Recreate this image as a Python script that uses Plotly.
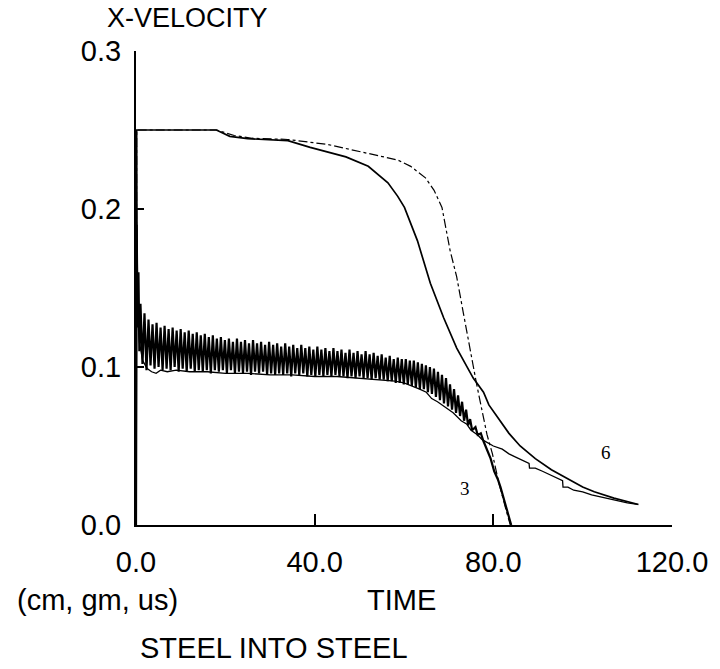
import plotly.graph_objects as go

# ---------------- data ----------------
# upper solid curve (label 6)
t_upper_solid = [0, 0.15, 18, 21, 25, 34, 39, 43, 47, 52, 56.4, 58.6, 60.1, 63, 64.8, 65.9,
                 68.9, 71.8, 75.5, 77.8, 79, 82, 83.5, 86, 89.4, 93, 96.7, 100, 102.6, 107, 112.5]
v_upper_solid = [0, 0.250, 0.250, 0.246, 0.2445, 0.2433, 0.239, 0.236, 0.233, 0.227, 0.2166, 0.208,
                 0.201, 0.180, 0.163, 0.153, 0.131, 0.112, 0.093, 0.084, 0.076, 0.064, 0.058, 0.050,
                 0.042, 0.035, 0.029, 0.024, 0.021, 0.017, 0.013]

# upper dash-dot curve
t_upper_dash = [0, 0.15, 18, 22, 26, 34, 43, 54, 58.6, 61.5, 63, 64.8, 66.7, 68.5, 70.3, 71.8,
                73.3, 74.7, 76.2, 77.5, 78.6, 79.8, 81.2, 83.0, 83.8]
v_upper_dash = [0, 0.250, 0.250, 0.2465, 0.2448, 0.2440, 0.2408, 0.2338, 0.2310, 0.2270, 0.2236,
                0.2197, 0.2120, 0.2010, 0.1740, 0.1570, 0.1340, 0.1120, 0.0900, 0.0720, 0.0570,
                0.0450, 0.0270, 0.0080, 0.0]

# lower oscillating curve (label 3): start transient, peaks, troughs, end
t_osc_start = [0, 0.15, 0.35, 0.55, 0.75]
v_osc_start = [0, 0.190, 0.125, 0.160, 0.110]
osc_first_peak_time = 1.0
osc_period = 0.9
osc_peaks = [0.140, 0.134, 0.130, 0.127, 0.128, 0.125, 0.126, 0.124, 0.125, 0.123,
             0.124, 0.122, 0.123, 0.121, 0.122, 0.120, 0.121, 0.119, 0.120, 0.118,
             0.119, 0.117, 0.118, 0.116, 0.118, 0.116, 0.117, 0.115, 0.117, 0.115,
             0.116, 0.114, 0.116, 0.114, 0.115, 0.113, 0.115, 0.113, 0.114, 0.112,
             0.114, 0.112, 0.113, 0.111, 0.113, 0.111, 0.112, 0.110, 0.112, 0.110,
             0.111, 0.109, 0.111, 0.109, 0.110, 0.108, 0.110, 0.108, 0.109, 0.107,
             0.108, 0.106, 0.107, 0.105, 0.106, 0.105, 0.105, 0.104, 0.104, 0.103,
             0.102, 0.101, 0.100, 0.099, 0.097, 0.095, 0.093, 0.089, 0.086, 0.082,
             0.078, 0.073, 0.067]
osc_troughs = [0.102, 0.098, 0.101, 0.099, 0.100, 0.098, 0.099, 0.098, 0.100, 0.097,
               0.099, 0.097, 0.099, 0.097, 0.098, 0.097, 0.098, 0.096, 0.098, 0.097,
               0.098, 0.096, 0.098, 0.096, 0.097, 0.096, 0.097, 0.095, 0.097, 0.096,
               0.097, 0.095, 0.096, 0.095, 0.096, 0.095, 0.096, 0.094, 0.096, 0.095,
               0.096, 0.094, 0.095, 0.094, 0.095, 0.094, 0.095, 0.094, 0.095, 0.094,
               0.094, 0.093, 0.094, 0.093, 0.094, 0.093, 0.093, 0.092, 0.093, 0.092,
               0.092, 0.091, 0.091, 0.090, 0.090, 0.089, 0.089, 0.088, 0.087, 0.086,
               0.086, 0.084, 0.083, 0.081, 0.079, 0.077, 0.075, 0.073, 0.071, 0.069,
               0.066, 0.063, 0.060]
t_osc_end = [76.0, 76.5, 77.2, 77.8, 78.6, 79.4, 80.2, 81.0, 81.6, 82.3, 82.9, 83.6, 84.0]
v_osc_end = [0.062, 0.057, 0.058, 0.053, 0.048, 0.042, 0.034, 0.029, 0.024, 0.017, 0.011, 0.004, 0.0]

# lower thin curve
t_lower_thin = [0, 0.1, 0.4, 0.8, 1.5, 2.5, 3.5, 4.5, 5.5, 7, 9, 12, 16, 20, 25, 30, 35, 40, 45,
                50, 55, 58, 60, 62, 63.5, 65, 66.2, 67.5, 69, 70, 71, 72.8, 74, 75, 76, 76.5,
                77.5, 79, 80, 82, 83.5, 85, 86.5, 88, 88.1, 89.4, 91, 92.5, 94, 95.5, 95.6,
                96.7, 98, 100, 102, 103.5, 105.5, 108, 110, 112.3]
v_lower_thin = [0, 0.24, 0.13, 0.115, 0.104, 0.099, 0.097, 0.096, 0.098, 0.097, 0.098, 0.097,
                0.097, 0.096, 0.096, 0.095, 0.095, 0.094, 0.094, 0.093, 0.092, 0.091, 0.090,
                0.088, 0.086, 0.084, 0.080, 0.078, 0.075, 0.073, 0.071, 0.066, 0.064, 0.060,
                0.058, 0.057, 0.054, 0.0516, 0.050, 0.048, 0.045, 0.043, 0.041, 0.039, 0.036,
                0.036, 0.034, 0.032, 0.030, 0.028, 0.024, 0.024, 0.022, 0.021, 0.019, 0.018,
                0.0166, 0.015, 0.014, 0.013]

x_tick_vals = [0, 40, 80, 120]
x_tick_text = ["0.0", "40.0", "80.0", "120.0"]
y_tick_vals = [0.0, 0.1, 0.2, 0.3]
y_tick_text = ["0.0", "0.1", "0.2", "0.3"]

# ---------------- build oscillating series ----------------
t_osc = list(t_osc_start)
v_osc = list(v_osc_start)
for k, (p, q) in enumerate(zip(osc_peaks, osc_troughs)):
    tp = osc_first_peak_time + osc_period * k
    t_osc += [tp, tp + osc_period / 2]
    v_osc += [p, q]
t_osc += t_osc_end
v_osc += v_osc_end

FONT = "Liberation Sans, Arial, Helvetica, sans-serif"
SERIF = "Liberation Serif, Times New Roman, serif"

fig = go.Figure()
fig.add_trace(go.Scatter(x=t_lower_thin, y=v_lower_thin, mode="lines",
                         line=dict(color="black", width=1.3), hoverinfo="skip"))
fig.add_trace(go.Scatter(x=t_osc, y=v_osc, mode="lines",
                         line=dict(color="black", width=2.2), hoverinfo="skip"))
fig.add_trace(go.Scatter(x=t_upper_dash, y=v_upper_dash, mode="lines",
                         line=dict(color="black", width=1.2, dash="dashdot"), hoverinfo="skip"))
fig.add_trace(go.Scatter(x=t_upper_solid, y=v_upper_solid, mode="lines",
                         line=dict(color="black", width=1.7), hoverinfo="skip"))

fig.update_layout(
    width=720, height=669,
    margin=dict(l=136, r=40, t=51, b=144),
    paper_bgcolor="white", plot_bgcolor="white",
    showlegend=False,
    font=dict(family=FONT, size=29, color="black"),
)
fig.update_xaxes(range=[0, 120], showgrid=False, zeroline=False,
                 showline=True, linecolor="black", linewidth=2,
                 ticks="inside", ticklen=11, tickwidth=1.5, tickcolor="black",
                 tickvals=x_tick_vals, ticktext=x_tick_text,
                 tickfont=dict(family=FONT, size=29, color="black"),
                 ticklabelstandoff=10)
fig.update_yaxes(range=[0, 0.3], showgrid=False, zeroline=False,
                 showline=True, linecolor="black", linewidth=2,
                 ticks="inside", ticklen=8, tickwidth=1.5, tickcolor="black",
                 tickvals=y_tick_vals, ticktext=y_tick_text,
                 tickfont=dict(family=FONT, size=29, color="black"),
                 ticklabelstandoff=7)

annotations = [
    dict(text="X-VELOCITY", xref="paper", yref="paper", x=0.0956, y=1.070,
         xanchor="center", yanchor="middle", showarrow=False,
         font=dict(family=FONT, size=27, color="black")),
    dict(text="(cm, gm, us)", xref="paper", yref="paper", x=-0.0726, y=-0.158,
         xanchor="center", yanchor="middle", showarrow=False,
         font=dict(family=FONT, size=29, color="black")),
    dict(text="TIME", xref="paper", yref="paper", x=0.496, y=-0.158,
         xanchor="center", yanchor="middle", showarrow=False,
         font=dict(family=FONT, size=29, color="black")),
    dict(text="STEEL INTO STEEL", xref="paper", yref="paper", x=0.0037, y=-0.2595,
         xanchor="left", yanchor="middle", showarrow=False,
         font=dict(family=FONT, size=29, color="black")),
    dict(text="6", xref="x", yref="y", x=105.2, y=0.0456, showarrow=False,
         xanchor="center", yanchor="middle",
         font=dict(family=SERIF, size=19, color="black")),
    dict(text="3", xref="x", yref="y", x=73.7, y=0.0234, showarrow=False,
         xanchor="center", yanchor="middle",
         font=dict(family=SERIF, size=19, color="black")),
]
fig.update_layout(annotations=annotations)

fig.write_html("out.html")
